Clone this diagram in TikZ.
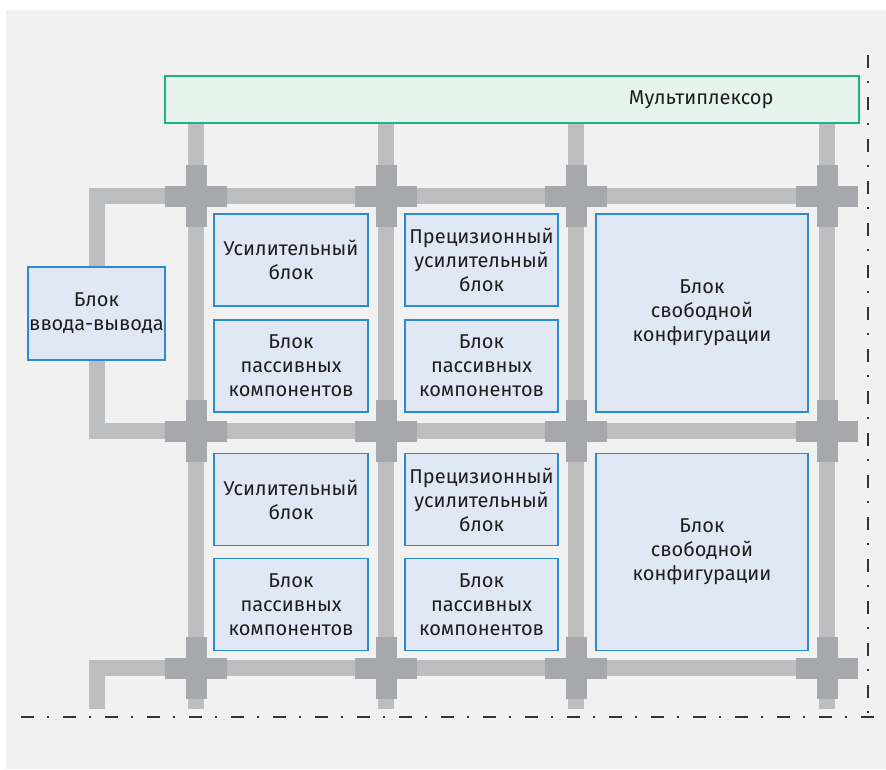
\documentclass[tikz,border=0pt]{standalone}
\usepackage{fontspec}
\setmainfont{Fira Sans}
\usetikzlibrary{positioning}

\definecolor{fon}{HTML}{F1F1F1}
\definecolor{shina}{HTML}{BDBEC0}
\definecolor{uzel}{HTML}{A7A8AB}
\definecolor{blokfill}{HTML}{E1E8F5}
\definecolor{blokline}{HTML}{2A8AD4}
\definecolor{muxfill}{HTML}{E5F4EC}
\definecolor{muxline}{HTML}{1CB485}
\definecolor{tekst}{HTML}{1E1E1E}
\definecolor{razm}{HTML}{333333}

\tikzset{
  blok/.style={draw=blokline, fill=blokfill, line width=1.1pt, align=center,
    text=tekst, inner sep=0pt, font=\fontsize{15}{18}\selectfont},
  razmer/.style 2 args={minimum width=#1*0.75pt, minimum height=#2*0.75pt},
  shina/.style={draw=shina, line width=12pt, line cap=butt, line join=miter},
  razmetka/.style={draw=razm, line width=1.1pt,
    dash pattern=on 9.75pt off 9.75pt on 1.5pt off 10.5pt}
}

\begin{document}
\begin{tikzpicture}[x=0.75pt, y=-0.75pt]
    \useasboundingbox (0,0) rectangle (886,769);
    \fill[fon] (6,10) rectangle (886,769);

    % Multiplexer on top
    \node[blok, draw=muxline, fill=muxfill, razmer={694}{47}] (mux) at (512,99.5) {};
    \node[anchor=east, text=tekst, inner sep=0pt, font=\fontsize{15}{18}\selectfont]
        (muxtext) at ([xshift=-86*0.75pt]mux.east) {Мультиплексор};

    % columns and rows of the bus grid
    \coordinate (k1) at (196,709);
    \coordinate (k2) at (386,709);
    \coordinate (k3) at (576,709);
    \coordinate (k4) at (827,709);
    \coordinate (r1) at (858,196);
    \coordinate (r2) at (858,431);
    \coordinate (r3) at (858,668);
    \coordinate (nizl) at (97,709);

    % I/O block
    \node[blok, razmer={137}{93}] (io) at (96.5,313.5) {Блок\\ввода-вывода};

    % bus lines
    \foreach \k in {k1,k2,k3,k4}
        \draw[shina] (\k |- mux.south) -- (\k);
    \draw[shina] (io.north) |- (r1);
    \draw[shina] (io.south) |- (r2);
    \draw[shina] (nizl) |- (r3);

    % crossing nodes
    \foreach \x in {196,386,576,827}
      \foreach \y in {196,431,668} {
        \fill[uzel] (\x-31,\y-10.5) rectangle (\x+31,\y+10.5);
        \fill[uzel] (\x-10.5,\y-31) rectangle (\x+10.5,\y+31);
      }

    % upper row
    \node[blok, razmer={154}{92}] (usil1) at (291,260) {Усилительный\\блок};
    \node[blok, razmer={154}{92}] (pass1) at (291,366) {Блок\\пассивных\\компонентов};
    \node[blok, razmer={153}{92}] (prec1) at (481.5,260) {Прецизионный\\усилительный\\блок};
    \node[blok, razmer={153}{92}] (pass2) at (481.5,366) {Блок\\пассивных\\компонентов};
    \node[blok, razmer={212}{198}] (svob1) at (702,313) {Блок\\свободной\\конфигурации};

    % lower row
    \node[blok, razmer={154}{92}] (usil2) at (291,499.5) {Усилительный\\блок};
    \node[blok, razmer={154}{92}] (pass3) at (291,604.5) {Блок\\пассивных\\компонентов};
    \node[blok, razmer={153}{92}] (prec2) at (481.5,499.5) {Прецизионный\\усилительный\\блок};
    \node[blok, razmer={153}{92}] (pass4) at (481.5,604.5) {Блок\\пассивных\\компонентов};
    \node[blok, razmer={212}{197}] (svob2) at (702,552) {Блок\\свободной\\конфигурации};

    % chip border
    \draw[razmetka] (868,55) -- (868,725);
    \draw[razmetka] (21,717) -- (876,717);
\end{tikzpicture}
\end{document}
